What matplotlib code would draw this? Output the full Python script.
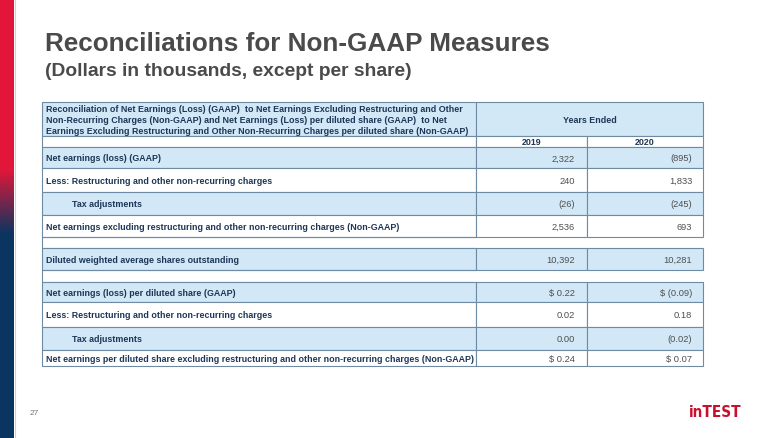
import numpy as np
import matplotlib.pyplot as plt
from matplotlib.patches import Rectangle

# table content
header_text = ("Reconciliation of Net Earnings (Loss) (GAAP)  to Net Earnings Excluding Restructuring and Other\n"
               "Non-Recurring Charges (Non-GAAP) and Net Earnings (Loss) per diluted share (GAAP)  to Net\n"
               "Earnings Excluding Restructuring and Other Non-Recurring Charges per diluted share (Non-GAAP)")
years = ["2019", "2020"]
row_labels = [
    "Net earnings (loss) (GAAP)",
    "Less: Restructuring and other non-recurring charges",
    "Tax adjustments",
    "Net earnings excluding restructuring and other non-recurring charges (Non-GAAP)",
    "",
    "Diluted weighted average shares outstanding",
    "",
    "Net earnings (loss) per diluted share (GAAP)",
    "Less: Restructuring and other non-recurring charges",
    "Tax adjustments",
    "Net earnings per diluted share excluding restructuring and other non-recurring charges (Non-GAAP)",
]
vals_2019 = ["2,322", "240", "(26)", "2,536", None, "10,392", None, "$ 0.22", "0.02", "0.00", "$ 0.24"]
vals_2020 = ["(895)", "1,833", "(245)", "693", None, "10,281", None, "$ (0.09)", "0.18", "(0.02)", "$ 0.07"]
indented = [False, False, True, False, False, False, False, False, False, True, False]

# layout (pixels)
row_heights = [21, 24, 23, 22, 11, 22, 12, 20, 25, 23, 16]
shaded = [True, False, True, False, False, True, False, True, False, True, False]
x_left, x_c1, x_c2, x_right = 42, 476, 587, 703
head_top, head_bot, year_bot = 103, 137, 148

BLUE = "#d2e8f6"
EDGE = "#6f8ba3"
NAVY = "#1d3657"
NUM = "#4f4f4f"

fig = plt.figure(figsize=(7.8, 4.39), dpi=100)
ax = fig.add_axes([0, 0, 1, 1])
ax.set_xlim(0, 780)
ax.set_ylim(439, 0)
ax.axis("off")

# left stripe: red -> blue gradient
red = np.array([0.89, 0.09, 0.22])
blue = np.array([0.04, 0.21, 0.38])
yy = np.linspace(0, 1, 439)
t = np.clip((yy * 439 - 170) / 65, 0, 1)[:, None]
grad = (red * (1 - t) + blue * t)[:, None, :]
ax.imshow(grad, extent=[0, 14, 439, 0], aspect="auto", zorder=1)
ax.plot([14.5, 14.5], [0, 439], color="#c9d4df", lw=0.8)

# titles
ax.text(45, 44, "Reconciliations for Non-GAAP Measures", fontsize=18.8, fontweight="bold",
        color="#4a4a4a", family="Liberation Sans", va="center")
ax.text(45, 72, "(Dollars in thousands, except per share)", fontsize=13.9, fontweight="bold",
        color="#4a4a4a", family="Liberation Sans", va="center")


def cell(x0, y0, x1, y1, fill):
    ax.add_patch(Rectangle((x0, y0), x1 - x0, y1 - y0, facecolor=fill, edgecolor=EDGE, lw=0.8, zorder=2))


font = dict(family="Liberation Sans", fontsize=6.4, fontweight="bold", color=NAVY, zorder=3)
numfont = dict(family="Liberation Sans", fontsize=6.7, color=NUM, zorder=3)

# header
cell(x_left, head_top, x_c1, head_bot, BLUE)
cell(x_c1, head_top, x_right, head_bot, BLUE)
ax.text(x_left + 4, (head_top + head_bot) / 2 + 0.5, header_text, va="center", ha="left", linespacing=1.25, **font)
ax.text((x_c1 + x_right) / 2, (head_top + head_bot) / 2 + 1, "Years Ended", ha="center", va="center", **font)
cell(x_left, head_bot, x_c1, year_bot, "white")
cell(x_c1, head_bot, x_c2, year_bot, "white")
cell(x_c2, head_bot, x_right, year_bot, "white")
ax.text((x_c1 + x_c2) / 2, (head_bot + year_bot) / 2 + 0.5, years[0], ha="center", va="center", **font)
ax.text((x_c2 + x_right) / 2, (head_bot + year_bot) / 2 + 0.5, years[1], ha="center", va="center", **font)

# body rows
y = year_bot
for lab, v1, v2, ind, h, sh in zip(row_labels, vals_2019, vals_2020, indented, row_heights, shaded):
    fill = BLUE if sh else "white"
    yc = y + h / 2 + 0.5
    if v1 is not None:
        cell(x_left, y, x_c1, y + h, fill)
        cell(x_c1, y, x_c2, y + h, fill)
        cell(x_c2, y, x_right, y + h, fill)
        ax.text(x_c2 - 12, yc, v1, ha="right", va="center", **numfont)
        ax.text(x_right - 11, yc, v2, ha="right", va="center", **numfont)
    else:
        # spacer row: only the left part has borders
        ax.plot([x_c1, x_left, x_left, x_c1], [y, y, y + h, y + h], color=EDGE, lw=0.8, zorder=2)
    if lab:
        ax.text(x_left + (30 if ind else 4), yc, lab, ha="left", va="center", **font)
    y += h

# footer
ax.text(30, 414, "27", fontsize=6, color="#777777", va="center", family="Liberation Sans")
ax.text(742, 413, "inTEST", fontsize=11, fontweight="bold", color="#c8102e", ha="right", va="center",
        family=["Liberation Sans Narrow", "DejaVu Sans"], fontstretch="condensed")

fig.savefig("out.png", dpi=100)
